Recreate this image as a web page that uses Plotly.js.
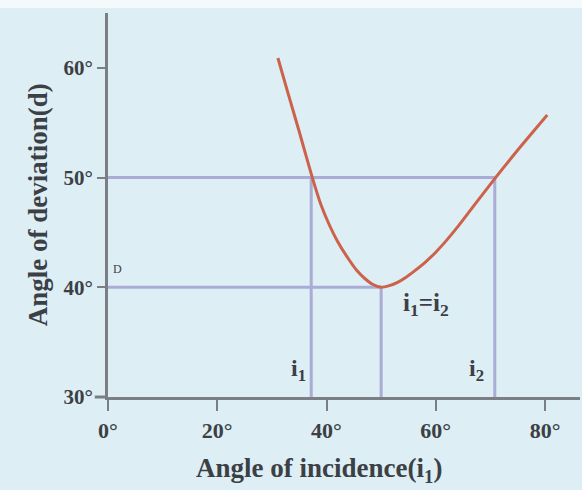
<!DOCTYPE html>
<html>
<head>
<meta charset="utf-8">
<script src="https://cdn.plot.ly/plotly-3.0.1.min.js"></script>
<style>
html, body { margin: 0; padding: 0; background: #f4f9fb; }
#chart { position: absolute; top: 8px; left: 0; width: 582px; height: 482px; }
</style>
</head>
<body>
<div id="chart"></div>
<script>
// Deviation curve (angle of incidence vs angle of deviation), degrees
const incidence = [31.1, 33.0, 35.0, 37.4, 39.0, 40.5, 42.0, 44.0, 45.6, 47.0, 48.5, 50.0, 51.5, 53.0, 54.5, 56.0, 58.0, 60.0, 62.0, 64.0, 66.0, 68.0, 70.8, 74.0, 77.0, 80.4];
const deviation = [60.9, 57.6, 54.2, 50.0, 47.5, 45.7, 44.2, 42.6, 41.5, 40.8, 40.25, 40.0, 40.15, 40.45, 40.9, 41.45, 42.25, 43.2, 44.3, 45.5, 46.8, 48.1, 49.9, 51.9, 53.7, 55.7];

// Marked values
const i1 = 37.2;      // first incidence for d = 50
const i2 = 70.8;      // second incidence for d = 50
const dLevel = 50;    // chosen deviation
const iMin = 50;      // incidence at minimum deviation
const dMin = 40;      // minimum deviation
const yBase = 30;

// Tick labels
const xTicks = [0, 20, 40, 60, 80];
const xTickText = ['0°', '20°', '40°', '60°', '80°'];
const yTicks = [30, 40, 50, 60];
const yTickText = ['30°', '40°', '50°', '60°'];

const refColor = '#a9acd4';
const axisColor = '#7a7f86';
const textColor = '#3c4044';
const fontFam = '"Liberation Serif", "DejaVu Serif", serif';

const refStyle = { color: refColor, width: 3 };
const traces = [
  { x: [0, i2], y: [dLevel, dLevel], mode: 'lines', line: refStyle, hoverinfo: 'skip' },
  { x: [i1, i1], y: [yBase, dLevel], mode: 'lines', line: refStyle, hoverinfo: 'skip' },
  { x: [i2, i2], y: [yBase, dLevel], mode: 'lines', line: refStyle, hoverinfo: 'skip' },
  { x: [0, iMin], y: [dMin, dMin], mode: 'lines', line: refStyle, hoverinfo: 'skip' },
  { x: [iMin, iMin], y: [yBase, dMin], mode: 'lines', line: refStyle, hoverinfo: 'skip' },
  { x: incidence, y: deviation, mode: 'lines', line: { color: '#cc624a', width: 3, shape: 'spline', smoothing: 0.6 } }
];

const layout = {
  width: 582, height: 482,
  margin: { l: 108, r: 2, t: 5, b: 93 },
  paper_bgcolor: '#ddeef5',
  plot_bgcolor: '#ddeef5',
  showlegend: false,
  font: { family: fontFam, color: textColor },
  xaxis: {
    range: [0, 86.4], tickvals: xTicks, ticktext: xTickText,
    showgrid: false, zeroline: false,
    showline: true, linecolor: axisColor, linewidth: 3,
    ticks: 'outside', ticklen: 11, tickwidth: 2, tickcolor: axisColor,
    ticklabelstandoff: 1,
    tickfont: { family: fontFam, size: 22, color: textColor, weight: 'bold' }
  },
  yaxis: {
    range: [30, 65], tickvals: yTicks, ticktext: yTickText,
    showgrid: false, zeroline: false,
    showline: true, linecolor: axisColor, linewidth: 3,
    ticks: 'outside', ticklen: 8, tickwidth: 2, tickcolor: axisColor,
    tickfont: { family: fontFam, size: 21, color: textColor, weight: 'bold' }
  },
  shapes: [
    { type: 'line', xref: 'paper', yref: 'paper', x0: -0.028, x1: 0, y0: 0, y1: 0,
      line: { color: axisColor, width: 3 } }
  ],
  annotations: [
    { text: 'Angle of incidence(i<sub>1</sub>)', xref: 'paper', yref: 'paper', x: 0.447, y: -0.19,
      xanchor: 'center', yanchor: 'middle', showarrow: false,
      font: { family: fontFam, size: 27, color: textColor, weight: 'bold' } },
    { text: 'Angle of deviation(d)', xref: 'paper', yref: 'paper', x: -0.148, y: 0.5,
      xanchor: 'center', yanchor: 'middle', textangle: -90, showarrow: false,
      font: { family: fontFam, size: 27, color: textColor, weight: 'bold' } },
    { text: 'i<sub>1</sub>', x: 34.8, y: 32.5, showarrow: false,
      font: { family: fontFam, size: 24, color: textColor, weight: 'bold' } },
    { text: 'i<sub>2</sub>', x: 67.4, y: 32.5, showarrow: false,
      font: { family: fontFam, size: 24, color: textColor, weight: 'bold' } },
    { text: 'i<sub>1</sub>=i<sub>2</sub>', x: 58.2, y: 38.4, showarrow: false,
      font: { family: fontFam, size: 25, color: textColor, weight: 'bold' } },
    { text: 'D', x: 1.7, y: 41.7, showarrow: false,
      font: { family: fontFam, size: 12, color: textColor } }
  ]
};

Plotly.newPlot('chart', traces, layout, { displayModeBar: false, staticPlot: true });
</script>
</body>
</html>
